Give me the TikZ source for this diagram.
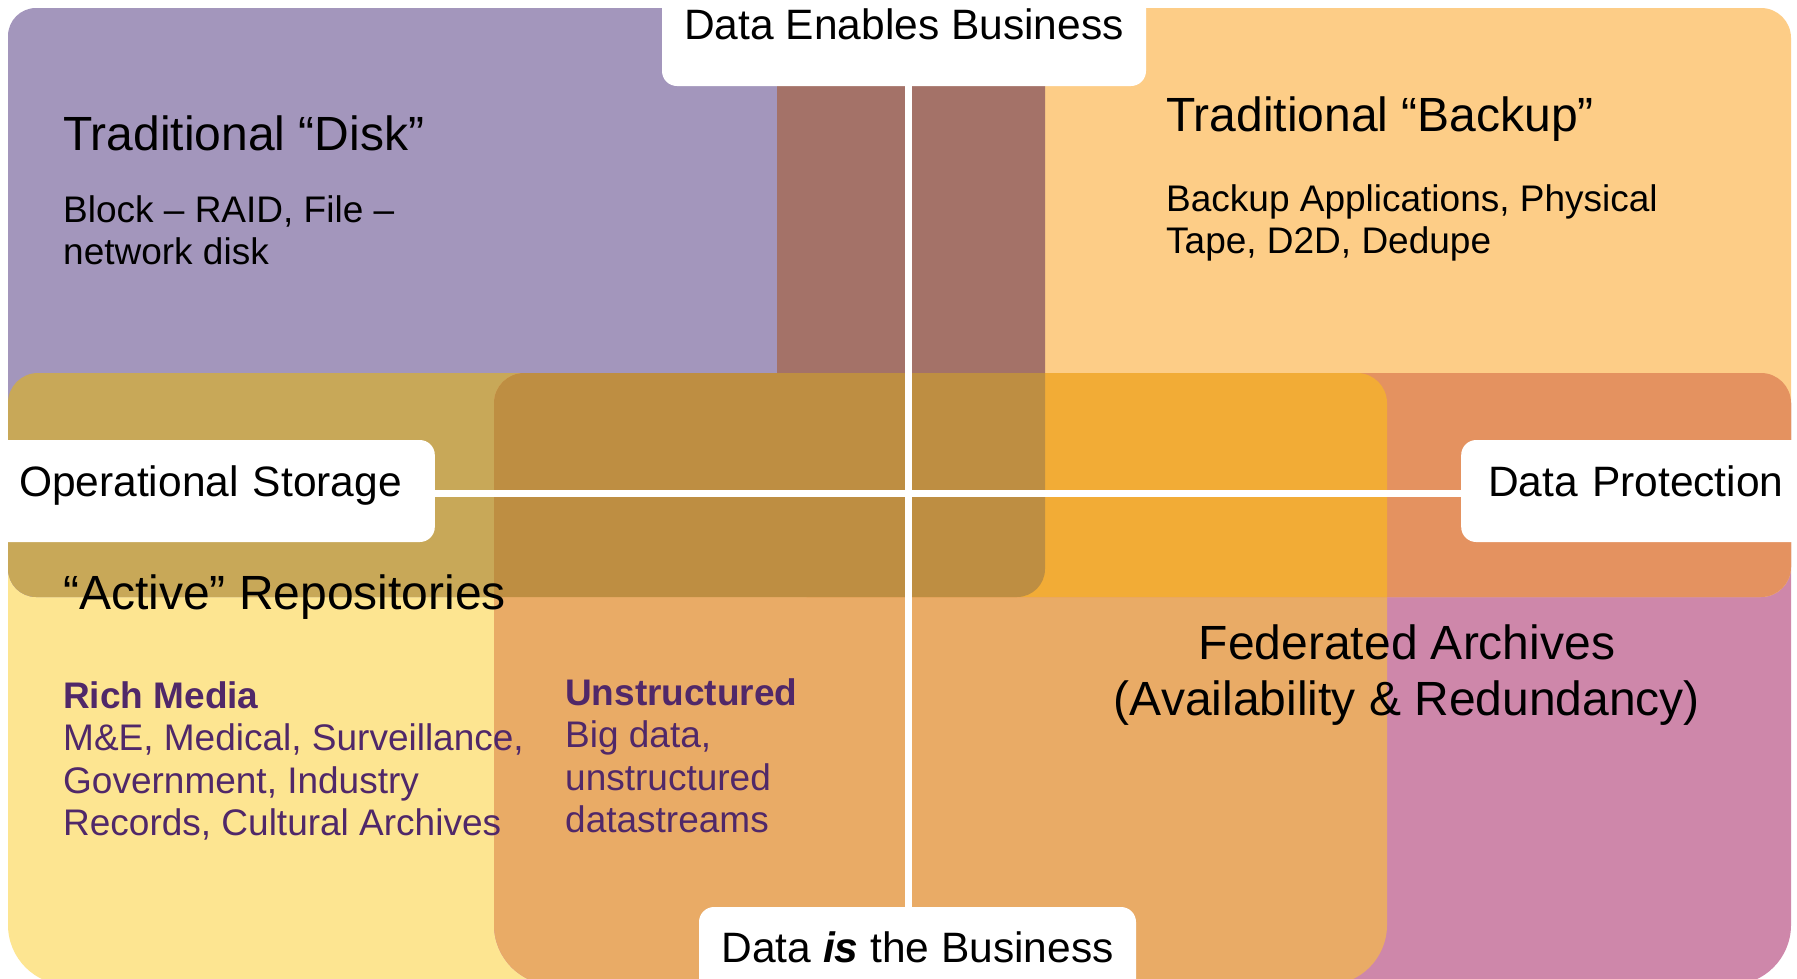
\documentclass[tikz,border=0pt]{standalone}
\usepackage{fontspec}
\setmainfont{Liberation Sans}

\definecolor{diskpurple}{RGB}{163,150,188}
\definecolor{backuporange}{RGB}{253,205,135}
\definecolor{activeyellow}{RGB}{253,229,145}
\definecolor{archivepink}{RGB}{206,135,170}
\definecolor{diskbackup}{RGB}{164,114,104}
\definecolor{diskactive}{RGB}{200,168,88}
\definecolor{diskactivearchive}{RGB}{190,142,66}
\definecolor{backupactivearchive}{RGB}{242,172,54}
\definecolor{backuparchive}{RGB}{228,146,96}
\definecolor{activearchive}{RGB}{233,171,102}
\definecolor{textpurple}{RGB}{80,40,105}

% the four quadrant areas
\newcommand{\diskarea}{[rounded corners=28pt] (8,8) rectangle (1045,597)}
\newcommand{\backuparea}{[rounded corners=30pt] (777,8) rectangle (1791,597)}
\newcommand{\activearea}{[rounded corners=30pt] (8,700) -- (8,373) -- (1387,373) -- (1387,700) [rounded corners=60pt] -- (1387,985) -- (8,985) -- cycle}
\newcommand{\archivearea}{[rounded corners=30pt] (494,700) -- (494,373) -- (1791,373) -- (1791,700) [rounded corners=60pt] -- (1791,985) -- (494,985) -- cycle}

\begin{document}
\begin{tikzpicture}[x=1pt,y=-1pt,
    labelbox/.style={fill=white,rounded corners=15pt,inner ysep=0pt,font=\fontsize{42.5}{50}\selectfont},
    heading/.style={anchor=base west,inner sep=0pt,font=\fontsize{48}{56}\selectfont},
    body/.style={anchor=base west,inner sep=0pt,align=left,font=\fontsize{37}{42.5}\selectfont},
    crossline/.style={white,line width=7pt}]
    \useasboundingbox (0,0) rectangle (1797,978);
    \clip (0,0) rectangle (1797,978);
    \fill[white] (0,0) rectangle (1797,978);

    % base areas
    \fill[activeyellow] \activearea;
    \fill[archivepink] \archivearea;
    \fill[diskpurple] \diskarea;
    \fill[backuporange] \backuparea;

    % overlaps
    \begin{scope}
        \clip \diskarea;
        \fill[diskbackup] \backuparea;
        \fill[diskactive] \activearea;
    \end{scope}
    \begin{scope}
        \clip \activearea;
        \fill[activearchive] \archivearea;
    \end{scope}
    \begin{scope}
        \clip \backuparea;
        \fill[backuparchive] \archivearea;
    \end{scope}
    \begin{scope}
        \clip \backuparea;
        \clip \activearea;
        \fill[backupactivearchive] \archivearea;
    \end{scope}
    \begin{scope}
        \clip \diskarea;
        \clip \activearea;
        \fill[diskactivearchive] \archivearea;
    \end{scope}

    % axis labels
    \node[labelbox,anchor=base,minimum width=484pt,text height=59pt,text depth=47pt] (enables) at (904,39) {Data Enables Business};
    \node[labelbox,anchor=base,minimum width=437pt,text height=55pt,text depth=40pt] (isbusiness) at (917.5,962) {Data \textbf{\textit{is}} the Business};
    \node[labelbox,anchor=base east,text width=420pt,align=right,inner xsep=33pt,text height=56pt,text depth=46pt] (opstorage) at (435,496) {Operational Storage};
    \node[labelbox,anchor=base west,text width=330pt,align=left,inner xsep=27pt,text height=56pt,text depth=46pt] (protection) at (1461,496) {Data Protection};

    \coordinate (hub) at (908.5,493.5);
    \draw[crossline] (hub |- enables.south) -- (hub |- isbusiness.north);
    \draw[crossline] (hub -| opstorage.east) -- (hub -| protection.west);

    % quadrant texts (multi-line nodes sit on their last baseline)
    \node[heading] (disk) at (63,150) {Traditional “Disk”};
    \node[body] (diskbody) at (63,264.5) {Block -- RAID, File --\\network disk};
    \node[heading] (backup) at (1166,131) {Traditional “Backup”};
    \node[body] (backupbody) at (1166,253.5) {Backup Applications, Physical\\Tape, D2D, Dedupe};
    \node[heading] (active) at (63,609) {“Active” Repositories};
    \node[body,textpurple] (richmedia) at (63,835.5) {\textbf{Rich Media}\\M\&E, Medical, Surveillance,\\Government, Industry\\Records, Cultural Archives};
    \node[body,textpurple] (unstructured) at (565,832.5) {\textbf{Unstructured}\\Big data,\\unstructured\\datastreams};
    \node[heading,anchor=base,align=center] (federated) at (1407,715) {Federated Archives\\(Availability \& Redundancy)};
\end{tikzpicture}
\end{document}
